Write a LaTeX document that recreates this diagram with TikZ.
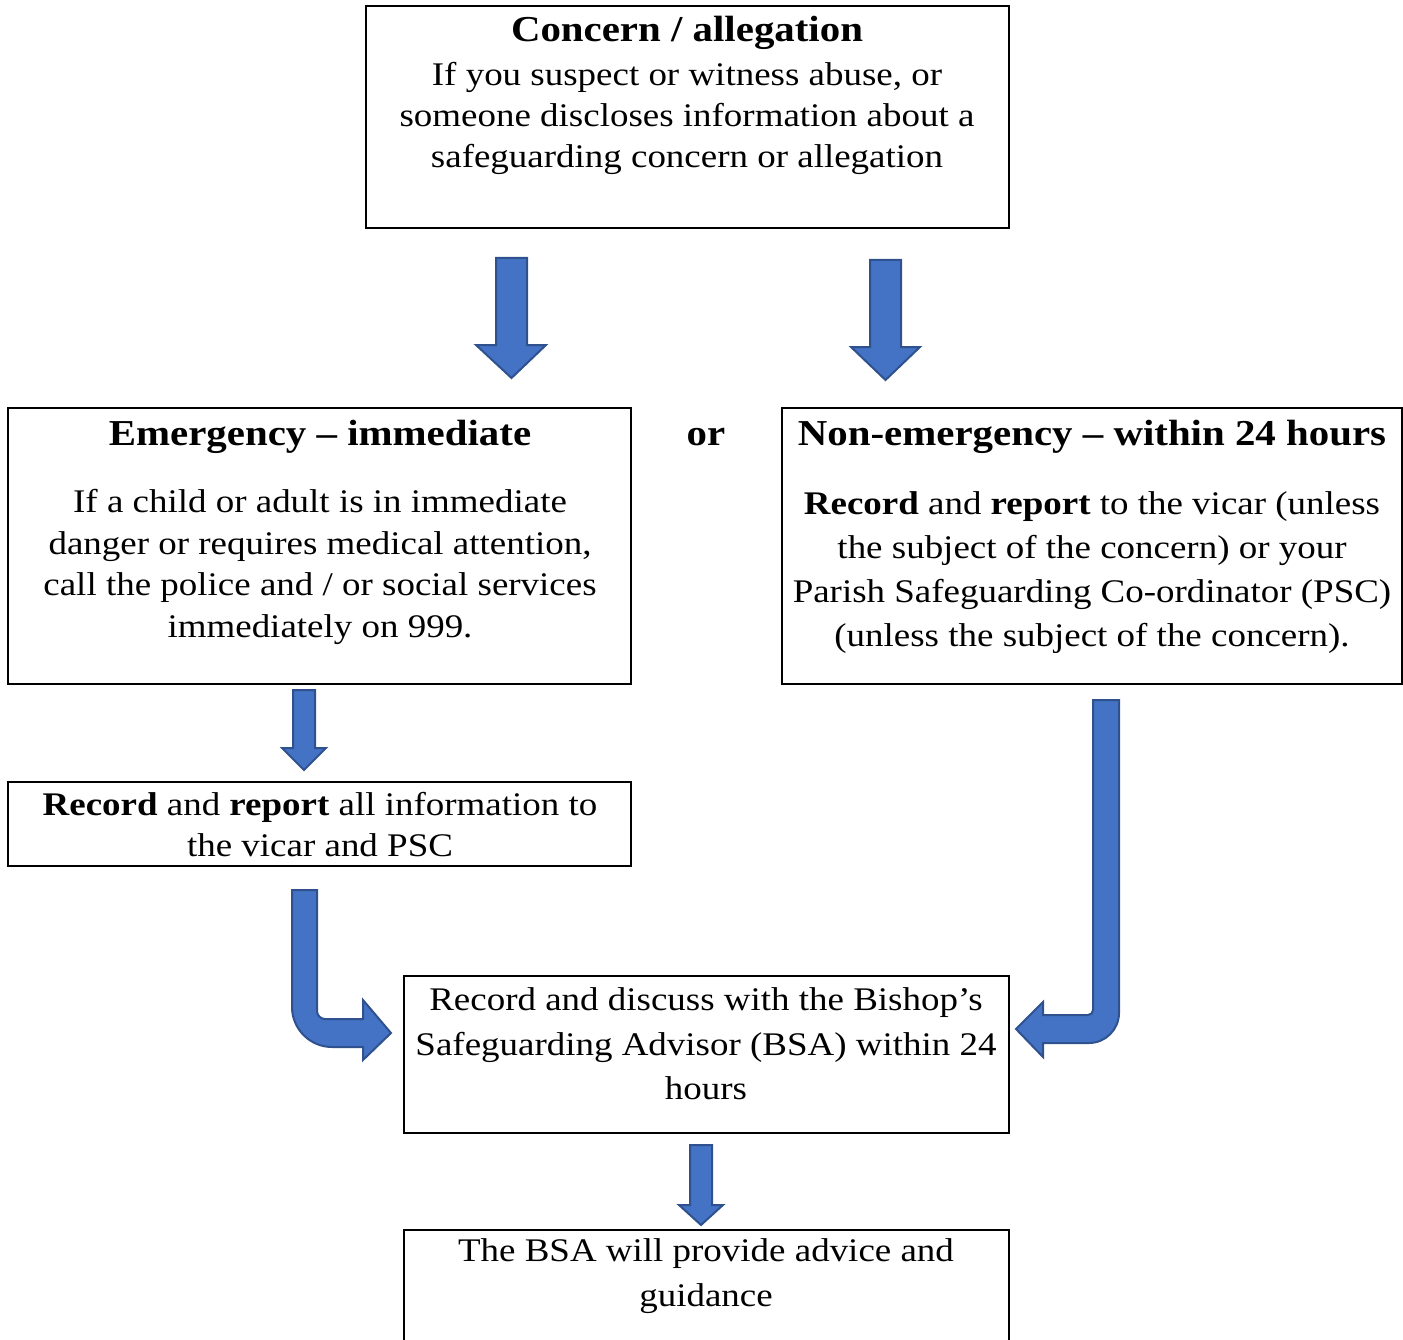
\documentclass[tikz,border=0pt]{standalone}
\usepackage{fontspec}
\setmainfont[FakeStretch=1.12]{Liberation Serif}
\definecolor{arrfill}{HTML}{4472C4}
\definecolor{arredge}{HTML}{2F528F}
\begin{document}
\begin{tikzpicture}[x=1pt,y=-1pt,
  box/.style={draw=black,line width=2pt},
  blockarrow/.style={fill=arrfill,draw=arredge,line width=2pt,line join=miter},
  body/.style={align=center,font=\fontsize{33}{41}\selectfont,inner sep=0pt},
  head/.style={align=center,font=\fontsize{36.5}{41}\selectfont\bfseries,inner sep=0pt}]
\useasboundingbox (0,0) rectangle (1403,1340);
% boxes
\draw[box] (366,6) rectangle (1009,228) node[pos=0.5,inner sep=0pt] (concern) {};
\draw[box] (8,408) rectangle (631,684) node[pos=0.5,inner sep=0pt] (emerg) {};
\draw[box] (782,408) rectangle (1402,684) node[pos=0.5,inner sep=0pt] (nonemerg) {};
\draw[box] (8,782) rectangle (631,866) node[pos=0.5,inner sep=0pt] (record) {};
\draw[box] (404,976) rectangle (1009,1133) node[pos=0.5,inner sep=0pt] (bsa) {};
\draw[box] (404,1230) rectangle (1009,1360) node[pos=0.5,inner sep=0pt] (final) {};
% texts
\node[head] (t1) at (687,33) {Concern / allegation};
\node[body] (t1b) at (687,118) {If you suspect or witness abuse, or\\someone discloses information about a\\safeguarding concern or allegation};
\node[head] (t2) at (320,437) {Emergency – immediate};
\node[body,font=\fontsize{33}{41.7}\selectfont] (t2b) at (320,567) {If a child or adult is in immediate\\danger or requires medical attention,\\call the police and / or social services\\immediately on 999.};
\node[head] (or) at (706,437) {or};
\node[head] (t3) at (1092,437) {Non-emergency – within 24 hours};
\node[body,font=\fontsize{33}{44}\selectfont] (t3b) at (1092,573) {\textbf{Record} and \textbf{report} to the vicar (unless\\the subject of the concern) or your\\Parish Safeguarding Co-ordinator (PSC)\\(unless the subject of the concern).};
\node[body] (t4) at (320,825) {\textbf{Record} and \textbf{report} all information to\\the vicar and PSC};
\node[body,font=\fontsize{33}{44.5}\selectfont] (t5) at (706,1044) {Record and discuss with the Bishop’s\\Safeguarding Advisor (BSA) within 24\\hours};
\node[body,font=\fontsize{33}{45}\selectfont] (t6) at (706,1276) {The BSA will provide advice and\\guidance};
% straight block arrows
\draw[blockarrow] (496,258) -- (527,258) -- (527,345) -- (546,345) -- (511.5,378) -- (476,345) -- (496,345) -- cycle;
\draw[blockarrow] (870,260) -- (901,260) -- (901,347) -- (920,347) -- (885.5,380) -- (851,347) -- (870,347) -- cycle;
\draw[blockarrow] (293,690) -- (315,690) -- (315,748) -- (326,748) -- (304,770) -- (282,748) -- (293,748) -- cycle;
\draw[blockarrow] (690,1145) -- (712,1145) -- (712,1205) -- (723,1205) -- (701,1225) -- (679,1205) -- (690,1205) -- cycle;
% bent arrows
\draw[blockarrow] (292,890) -- (317,890) -- (317,1011) .. controls (317,1015.4) and (320.6,1019) .. (325,1019) -- (363,1019) -- (363,1000) -- (391,1033) -- (363,1060) -- (363,1047) -- (332,1047) .. controls (310,1047) and (292,1029) .. (292,1007) -- cycle;
\draw[blockarrow] (1093,700) -- (1119,700) -- (1119,1013) .. controls (1119,1029.5) and (1105.5,1043) .. (1089,1043) -- (1043,1043) -- (1043,1057) -- (1016,1029) -- (1043,1002) -- (1043,1015) -- (1088,1015) .. controls (1090.8,1015) and (1093,1012.8) .. (1093,1010) -- cycle;
\end{tikzpicture}
\end{document}
